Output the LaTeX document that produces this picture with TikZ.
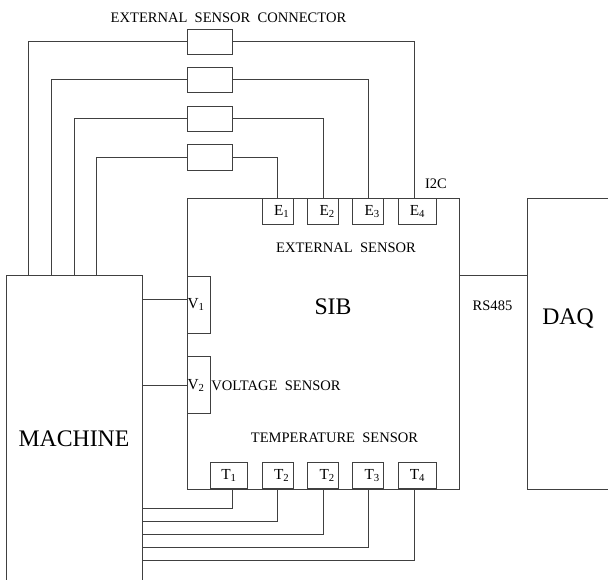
\documentclass[tikz,border=0pt]{standalone}
\usepackage{fontspec}
\setmainfont{Liberation Serif}
\usetikzlibrary{positioning,calc}

\begin{document}
\begin{tikzpicture}[
        x=0.75pt, y=-0.75pt,
        block/.style={rectangle, draw=black!75, line width=0.75pt, inner sep=0pt, outer sep=0pt},
        conn/.style={block, minimum width=33.75pt, minimum height=19.2pt},
        portw/.style={block, minimum width=28.4pt, minimum height=19.8pt, font=\fontsize{11.5}{13}\selectfont},
        port/.style={portw, minimum width=22.9pt, execute at begin node=\hspace*{6pt}},
        volt/.style={block, minimum width=17.25pt, minimum height=42.6pt, font=\fontsize{11.5}{13}\selectfont},
        lbl/.style={inner sep=0pt, font=\fontsize{10.9}{12}\selectfont},
        big/.style={inner sep=0pt, font=\fontsize{17.8}{20}\selectfont},
        wire/.style={draw=black!75, line width=0.75pt}
    ]
    \path[use as bounding box, clip] (0,0) rectangle (608,580);

    % Main blocks
    \node[block, minimum width=102pt, minimum height=243pt] (machine) at (74,438) {};
    \node[block, minimum width=204pt, minimum height=218.25pt] (sib) at (323,343.75) {};
    \node[block, minimum width=75pt, minimum height=218.25pt] (daq) at (577,343.75) {};
    \node[big] (machinetxt) at (74,439) {MACHINE};
    \node[big] (sibtxt) at (333,307) {SIB};
    \node[big] (daqtxt) at (568,319) {DAQ};

    % Connectors
    \node[conn] (conn1) at (209.5,42) {};
    \node[conn] (conn2) at (209.5,80) {};
    \node[conn] (conn3) at (209.5,119) {};
    \node[conn] (conn4) at (209.5,157.5) {};
    \node[lbl] (conntxt) at (228.5,18) {EXTERNAL\ \ SENSOR\ \ CONNECTOR};

    % External sensor ports
    \node[port] (e1) at (277.75,211.75) {E\textsubscript{1}};
    \node[port] (e2) at (323.25,211.75) {E\textsubscript{2}};
    \node[port] (e3) at (368.25,211.75) {E\textsubscript{3}};
    \node[portw] (e4) at (417.5,211.75) {E\textsubscript{4}};
    \node[lbl] (i2c) at (436,184) {I2C};
    \node[lbl] (exttxt) at (346,248) {EXTERNAL\ \ SENSOR};

    % Voltage sensor
    \node[volt] (v1) at (198.5,304.75) {V\textsubscript{1}\kern3.5pt};
    \node[volt] (v2) at (198.5,385.25) {V\textsubscript{2}\kern3.5pt};
    \node[lbl] (volttxt) at (276,385.5) {VOLTAGE\ \ SENSOR};

    % Temperature sensor ports
    \node[portw] (t1) at (229,475.75) {T\textsubscript{1}};
    \node[port] (t2) at (277.75,475.75) {T\textsubscript{2}};
    \node[port] (t3) at (323.25,475.75) {T\textsubscript{2}};
    \node[port] (t4) at (368.25,475.75) {T\textsubscript{3}};
    \node[portw] (t5) at (417.5,475.75) {T\textsubscript{4}};
    \node[lbl] (temptxt) at (334.5,438) {TEMPERATURE\ \ SENSOR};
    \node[lbl] (rstxt) at (492.5,306) {RS485};

    % Free ends
    \coordinate (m1) at (28.5,276);
    \coordinate (m2) at (51,276);
    \coordinate (m3) at (74,276);
    \coordinate (m4) at (96.5,276);
    \coordinate (e4top) at (414,198.5);
    \coordinate (v1in) at (187,299.5);
    \coordinate (t1low) at (232.5,509);
    \coordinate (t5low) at (414,560.5);
    \coordinate (t1top) at (232.5,489);
    \coordinate (t5top) at (414,489);

    \draw[wire] (m1) |- (conn1.west);
    \draw[wire] (m2) |- (conn2.west);
    \draw[wire] (m3) |- (conn3.west);
    \draw[wire] (m4) |- (conn4.west);
    \draw[wire] (conn1.east) -| (e4top);
    \draw[wire] (conn2.east) -| (e3.north);
    \draw[wire] (conn3.east) -| (e2.north);
    \draw[wire] (conn4.east) -| (e1.north);

    \draw[wire] (v1in -| machine.east) -- (v1in);
    \draw[wire] (machine.east |- v2.west) -- (v2.west);

    \draw[wire] (t1top) |- (t1low -| machine.east);
    \draw[wire] (t2.south) |- (142,522);
    \draw[wire] (t3.south) |- (142,535);
    \draw[wire] (t4.south) |- (142,547.5);
    \draw[wire] (t5top) |- (t5low -| machine.east);

    \draw[wire] (sib.east |- 0,276) -- (daq.west |- 0,276);
    \end{tikzpicture}
\end{document}
